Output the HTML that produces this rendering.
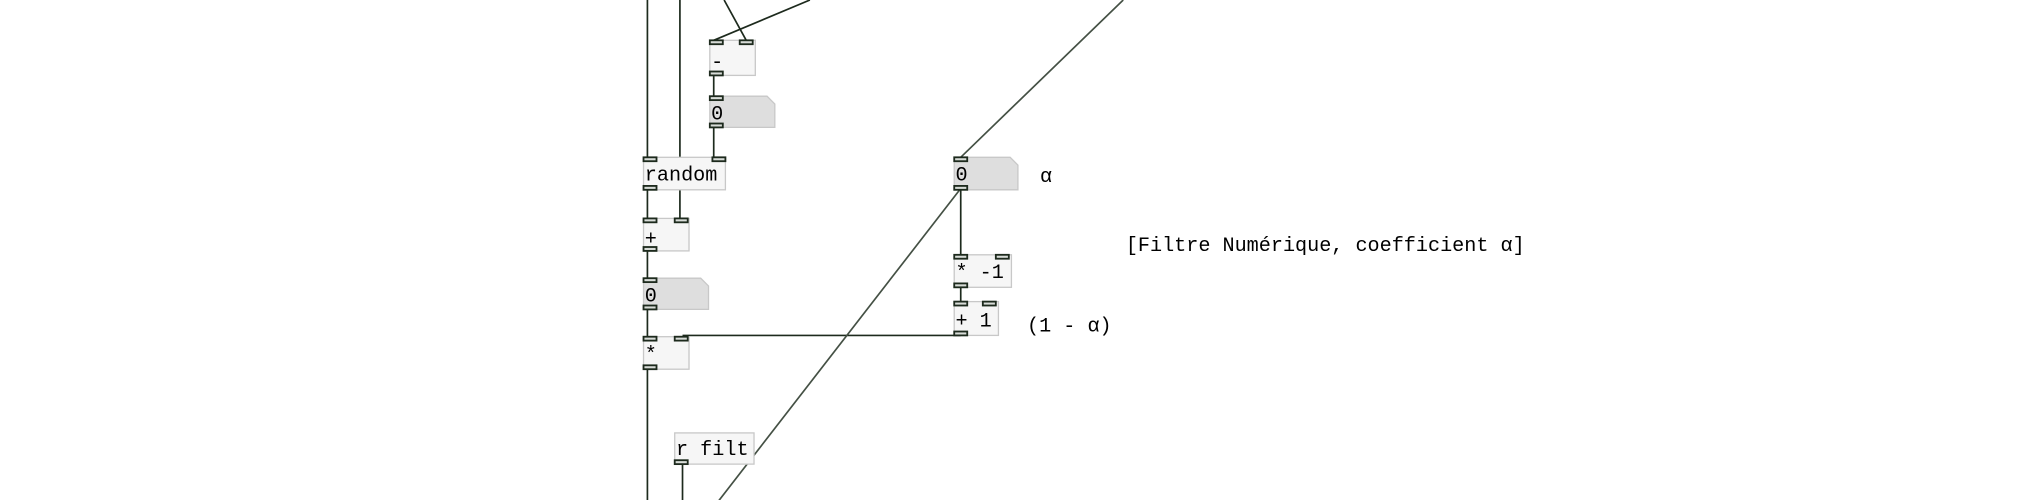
<!DOCTYPE html>
<html><head><meta charset="utf-8"><style>
html,body{margin:0;padding:0;background:#fff;}
svg{display:block;}
text{font-family:"Liberation Mono","DejaVu Sans Mono",monospace;font-size:15.5px;fill:#000;}
</style></head><body>
<svg width="2030" height="500" viewBox="0 0 1561.5 384.6" xmlns="http://www.w3.org/2000/svg">
<g transform="translate(-2,0)">
<g stroke="#1d2a1d" stroke-width="1.3" fill="none">
<line x1="500" y1="0" x2="500" y2="121"/>
<line x1="525" y1="0" x2="525" y2="168"/>
<line x1="559" y1="0" x2="576" y2="31"/>
<line x1="625" y1="0" x2="551" y2="31"/>
<line x1="551" y1="57" x2="551" y2="74"/>
<line x1="551" y1="97" x2="551" y2="121"/>
<line x1="500" y1="145" x2="500" y2="168"/>
<line x1="500" y1="192" x2="500" y2="214"/>
<line x1="500" y1="237" x2="500" y2="259"/>
<line x1="500" y1="283" x2="500" y2="385"/>
<line x1="527" y1="356" x2="527" y2="385"/>
<line x1="527" y1="258" x2="741" y2="258"/>
<line x1="741" y1="145" x2="741" y2="196"/>
<line x1="741" y1="220" x2="741" y2="232"/>
<line x1="555" y1="385" x2="741" y2="145" stroke="#445044"/>
<line x1="741" y1="121" x2="866" y2="0" stroke="#445044"/>
</g>
<g fill="#f6f6f6" stroke="#c8c8c8" stroke-width="1">
<rect x="548" y="31" width="35" height="27"/>
<rect x="497" y="121" width="63" height="25"/>
<rect x="497" y="168" width="35" height="25"/>
<rect x="497" y="259" width="35" height="25"/>
<rect x="521" y="333" width="61" height="24"/>
<rect x="736" y="196" width="44" height="25"/>
<rect x="736" y="232" width="34" height="26"/>
</g>
<g fill="#dedede" stroke="#c8c8c8" stroke-width="1">
<path d="M548 74 H592 L598 80 V98 H548 Z"/>
<path d="M497 214 H541 L547 220 V238 H497 Z"/>
<path d="M736 121 H779 L785 127 V146 H736 Z"/>
</g>
<g fill="#d8dcd8" stroke="#1d2a1d" stroke-width="1.4">
<rect x="548" y="31" width="10" height="3"/><rect x="571" y="31" width="10" height="3"/><rect x="548" y="55" width="10" height="3"/>
<rect x="548" y="74" width="10" height="3"/><rect x="548" y="95" width="10" height="3"/>
<rect x="497" y="121" width="10" height="3"/><rect x="550" y="121" width="10" height="3"/><rect x="497" y="143" width="10" height="3"/>
<rect x="497" y="168" width="10" height="3"/><rect x="521" y="168" width="10" height="3"/><rect x="497" y="190" width="10" height="3"/>
<rect x="497" y="214" width="10" height="3"/><rect x="497" y="235" width="10" height="3"/>
<rect x="497" y="259" width="10" height="3"/><rect x="521" y="259" width="10" height="3"/><rect x="497" y="281" width="10" height="3"/>
<rect x="521" y="354" width="10" height="3"/>
<rect x="736" y="121" width="10" height="3"/><rect x="736" y="143" width="10" height="3"/>
<rect x="736" y="196" width="10" height="3"/><rect x="768" y="196" width="10" height="3"/><rect x="736" y="218" width="10" height="3"/>
<rect x="736" y="232" width="10" height="3"/><rect x="758" y="232" width="10" height="3"/><rect x="736" y="255" width="10" height="3"/>
</g>
<text x="549" y="52">-</text>
<text x="549" y="92">0</text>
<text x="498" y="139">random</text>
<text x="498" y="188">+</text>
<text x="498" y="232">0</text>
<text x="498" y="277">*</text>
<text x="522" y="350">r filt</text>
<text x="737" y="139">0</text>
<text x="802" y="140">α</text>
<text x="737" y="214">* -1</text>
<text x="737" y="251">+ 1</text>
<text x="792" y="255">(1 - α)</text>
<text x="868" y="193">[Filtre Numérique, coefficient α]</text>
</g>
</svg>
</body></html>
